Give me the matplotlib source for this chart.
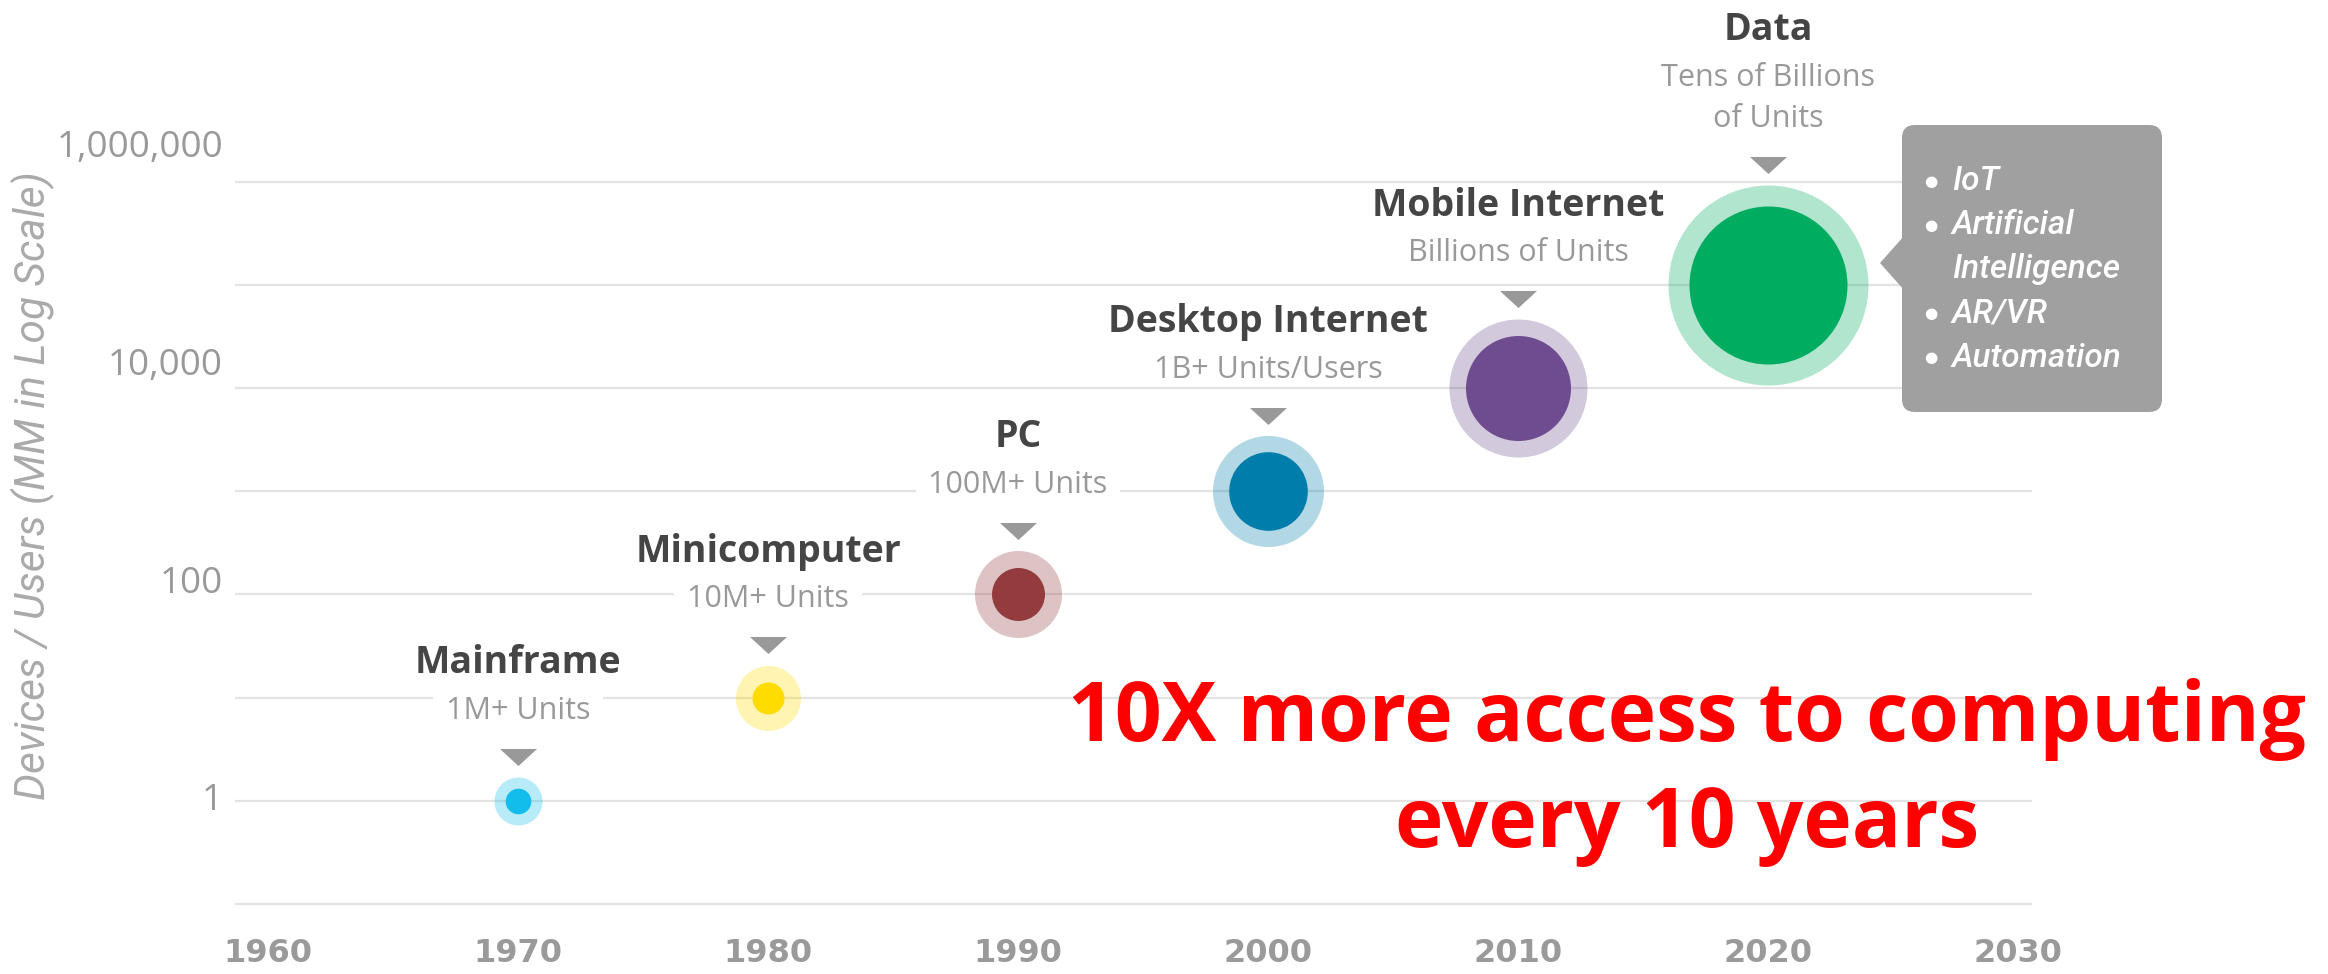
import matplotlib
matplotlib.use("Agg")
import matplotlib.pyplot as plt
import matplotlib.transforms as mtransforms
from matplotlib.patches import FancyBboxPatch, Polygon
from matplotlib.path import Path
from matplotlib.ticker import NullLocator

# data: devices / users in millions (log scale), one bubble per decade
years = [1970, 1980, 1990, 2000, 2010, 2020]
devices = [1, 10, 100, 1000, 10000, 100000]
eras = ["Mainframe", "Minicomputer", "PC", "Desktop Internet", "Mobile Internet", "Data"]
units = ["1M+ Units", "10M+ Units", "100M+ Units", "1B+ Units/Users",
         "Billions of Units", "Tens of Billions\nof Units"]
x_ticks = [1960, 1970, 1980, 1990, 2000, 2010, 2020, 2030]
y_ticks = [1, 100, 10000, 1000000]
y_tick_labels = ["1", "100", "10,000", "1,000,000"]
callout_items = ["IoT", "Artificial\nIntelligence", "AR/VR", "Automation"]

# styling
colors = ["#12BDEB", "#FFDC00", "#933B3D", "#007DAB", "#6E4C8F", "#00AC5F"]
ring_r = [24, 32.5, 43.5, 55.5, 69, 100]      # outer ring radius, px
dot_r = [12.8, 16, 26.5, 39.3, 52.5, 79]       # inner dot radius, px
GREY = "#999999"
NARROW = ["Roboto", "DejaVu Sans"]

W, H, DPI = 2328, 974, 100
PX = 72 / DPI  # points per pixel

fig = plt.figure(figsize=(W / DPI, H / DPI), dpi=DPI)


def px_rect(l, t, r, b):
    return [l / W, 1 - b / H, (r - l) / W, (b - t) / H]


ax = fig.add_axes(px_rect(235, 130, 2032, 930))
ax.set_xlim(1958.68, 2030.56)
ax.set_yscale("log")
ax.set_ylim(10 ** -1.2551, 10 ** 6.5044)
ax.set_yticks([10.0 ** k for k in range(-1, 7)])
ax.yaxis.set_minor_locator(NullLocator())
ax.grid(axis="y", color="#E3E3E3", lw=1.6, zorder=0)
ax.set_axisbelow(True)
for s in ax.spines.values():
    s.set_visible(False)

ax.set_xticks(x_ticks)
ax.tick_params(axis="x", length=0, pad=6, labelsize=23, labelcolor="#9A9A9A")
for lbl in ax.get_xticklabels():
    lbl.set_fontweight("bold")
    lbl.set_fontfamily("DejaVu Sans")

# the printed tick labels sit on a slightly stretched scale of their own
ax2 = ax.twinx()
ax.tick_params(axis="y", left=False, right=False, labelleft=False, labelright=False)
ax2.set_yscale("log")
ax2.set_ylim(10 ** -1.2221, 10 ** 6.1286)
ax2.yaxis.tick_left()
ax2.set_yticks(y_ticks, y_tick_labels)
ax2.yaxis.set_minor_locator(NullLocator())
ax2.tick_params(axis="y", left=False, right=False, length=0, pad=8.5,
                labelsize=26.5, labelcolor=GREY)
for lbl in ax2.get_yticklabels():
    lbl.set_fontfamily("Open Sans")
for s in ax2.spines.values():
    s.set_visible(False)

fig.text(33 / W, 1 - 486 / H, "Devices / Users (MM in Log Scale)", rotation=90,
         ha="center", va="center", family=NARROW, style="italic",
         fontsize=30.5, color="#AAAAAA")


def hpad_box(x0, y0, width, height, mutation_size):
    p = 0.42 * mutation_size
    return Path([(x0 - p, y0), (x0 + width + p, y0), (x0 + width + p, y0 + height),
                 (x0 - p, y0 + height), (x0 - p, y0)], closed=True)


tri = [(-1, 0.46), (1, 0.46), (0, -0.46)]
for x, y, c, ro, ri, era, sub in zip(years, devices, colors, ring_r, dot_r, eras, units):
    ax.scatter(x, y, s=(2 * ro * PX) ** 2, color=c, alpha=0.3, lw=0, zorder=3)
    ax.scatter(x, y, s=(2 * ri * PX) ** 2, color=c, lw=0, zorder=4)

    tri_y = ro + 20
    off = mtransforms.offset_copy(ax.transData, fig=fig, x=0, y=tri_y * PX, units="points")
    ax.plot([x], [y], marker=tri, ms=37 * PX, color=GREY, mec="none",
            transform=off, clip_on=False, zorder=5)

    nlines = sub.count("\n") + 1
    sub_base = tri_y + 38
    ax.annotate(sub, (x, y), xytext=(0, sub_base * PX), textcoords="offset points",
                ha="center", va="baseline", fontsize=22, color=GREY, family="Open Sans",
                linespacing=1.48, annotation_clip=False, zorder=6,
                bbox=dict(boxstyle=hpad_box, fc="white", ec="none"))
    title_base = sub_base + 45.5 + (nlines - 1) * 41.6
    ax.annotate(era, (x, y), xytext=(0, title_base * PX), textcoords="offset points",
                ha="center", va="baseline", fontsize=27, fontweight="bold",
                color="#454545", family="Open Sans", annotation_clip=False, zorder=7)

# call-out box next to the Data bubble (pixel coordinates)
ident = mtransforms.IdentityTransform()
fig.add_artist(FancyBboxPatch((1902, H - 412), 260, 287,
                              boxstyle="round,pad=0,rounding_size=13",
                              fc="#A0A0A0", ec="none", transform=ident))
fig.add_artist(Polygon([(1880, H - 263), (1904, H - 236), (1904, H - 290)],
                       closed=True, fc="#A0A0A0", ec="none", transform=ident))
line = 0
for item in callout_items:
    for j, part in enumerate(item.split("\n")):
        yb = H - (190 + line * 44.2)
        if j == 0:
            fig.text(1931, yb + 9, "\u25CF", transform=ident, ha="center", va="center",
                     fontsize=11, color="white", family="DejaVu Sans")
        fig.text(1952, yb, part, transform=ident, ha="left", va="baseline",
                 fontsize=24, color="white", family=NARROW, style="italic",
                 fontweight="medium")
        line += 1

fig.text(1687 / W, 1 - 847 / H, "10X more access to computing\nevery 10 years",
         ha="center", va="baseline", multialignment="center", fontsize=59,
         fontweight="bold", color="#FF0000", family="Open Sans", linespacing=1.37)

fig.savefig("out.png", dpi=DPI)
